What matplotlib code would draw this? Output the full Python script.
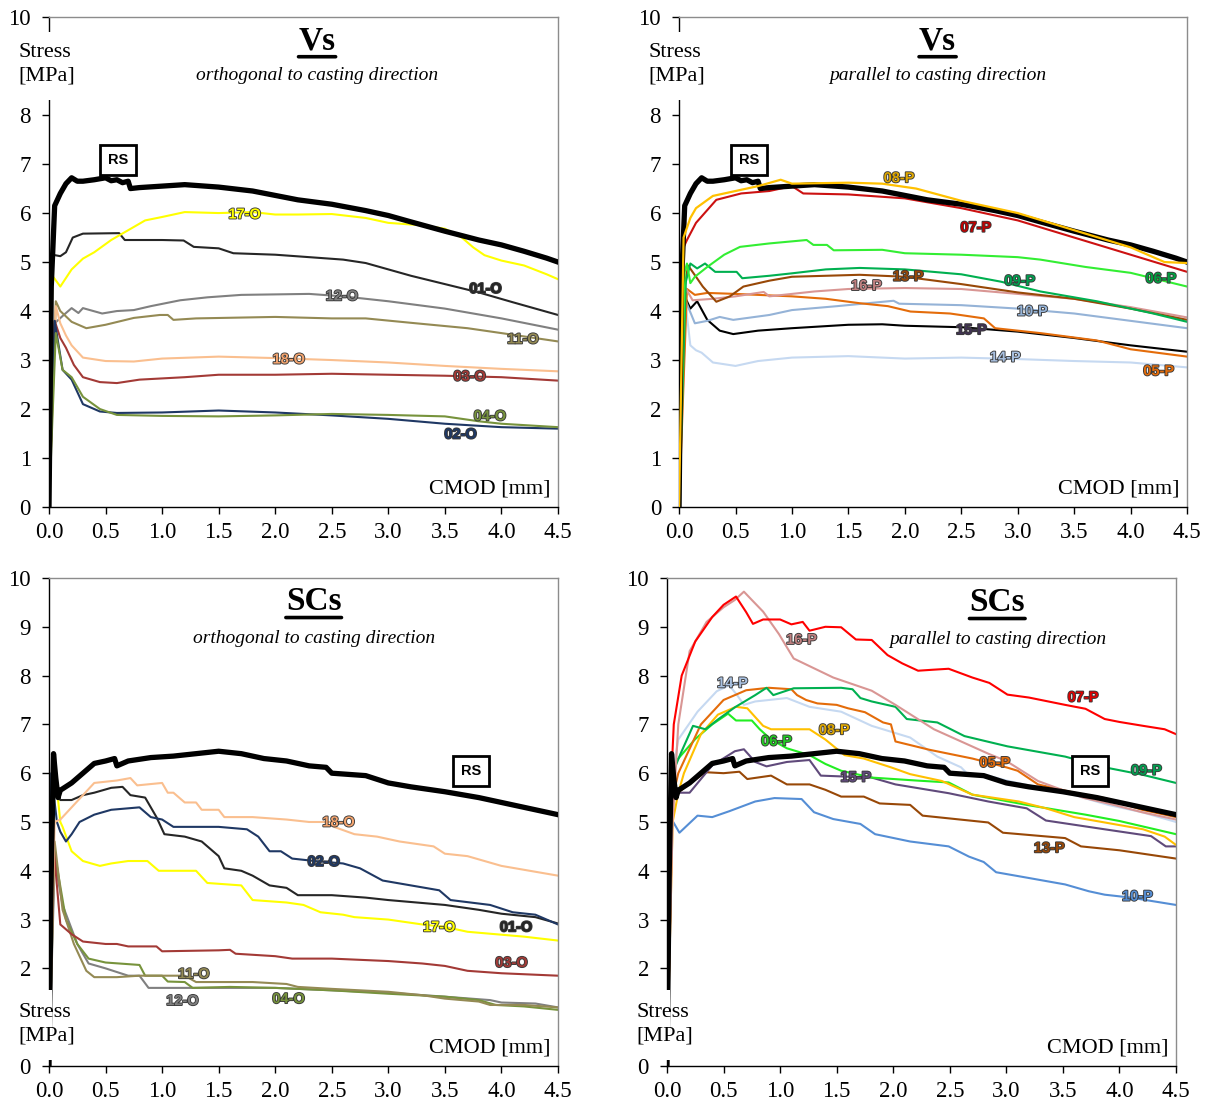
import matplotlib
matplotlib.use('Agg')
from matplotlib import pyplot as plt
from matplotlib.patches import Rectangle
import matplotlib.patheffects as pe
import matplotlib.transforms as mtransforms

plt.rcParams['font.family'] = 'Liberation Serif'

# ---------------- data: Vs, orthogonal ----------------
vs_rs = ([0, 0.02, 0.05, 0.1, 0.15, 0.2, 0.25, 0.3, 0.4, 0.5, 0.55, 0.6, 0.65, 0.7, 0.72, 0.8, 1.0, 1.2, 1.5, 1.8, 2.0, 2.2, 2.5, 2.8, 3.0, 3.2, 3.5, 3.8, 4.0, 4.2, 4.4, 4.5],
         [0, 4.5, 6.15, 6.4, 6.6, 6.72, 6.65, 6.65, 6.68, 6.72, 6.66, 6.68, 6.62, 6.65, 6.5, 6.52, 6.55, 6.58, 6.53, 6.45, 6.36, 6.27, 6.18, 6.05, 5.95, 5.82, 5.63, 5.45, 5.35, 5.22, 5.08, 5.0])
vs_o_01 = ([0, 0.03, 0.1, 0.15, 0.21, 0.3, 0.62, 0.67, 1.0, 1.19, 1.28, 1.5, 1.63, 2.0, 2.3, 2.6, 2.8, 3.0, 3.2, 3.5, 3.8, 4.1, 4.5],
           [0, 5.15, 5.12, 5.2, 5.5, 5.58, 5.59, 5.45, 5.45, 5.44, 5.31, 5.28, 5.18, 5.15, 5.1, 5.05, 4.98, 4.85, 4.72, 4.55, 4.38, 4.18, 3.92])
vs_o_02 = ([0, 0.05, 0.12, 0.2, 0.3, 0.45, 0.6, 1.0, 1.5, 2.0, 2.5, 3.0, 3.5, 4.0, 4.5],
           [0, 3.8, 2.8, 2.6, 2.1, 1.95, 1.92, 1.93, 1.97, 1.93, 1.87, 1.8, 1.7, 1.63, 1.6])
vs_o_03 = ([0, 0.05, 0.1, 0.15, 0.22, 0.3, 0.45, 0.6, 0.8, 1.2, 1.5, 2.0, 2.5, 3.0, 3.5, 4.0, 4.5],
           [0, 3.8, 3.45, 3.25, 2.9, 2.65, 2.55, 2.53, 2.6, 2.65, 2.7, 2.7, 2.72, 2.7, 2.68, 2.65, 2.58])
vs_o_04 = ([0, 0.06, 0.12, 0.2, 0.3, 0.45, 0.6, 1.0, 1.5, 2.0, 2.5, 3.0, 3.5, 3.8, 4.0, 4.5],
           [0, 3.55, 2.8, 2.65, 2.25, 2.0, 1.88, 1.86, 1.85, 1.87, 1.9, 1.88, 1.85, 1.75, 1.7, 1.63])
vs_o_11 = ([0, 0.06, 0.1, 0.2, 0.33, 0.5, 0.75, 0.98, 1.05, 1.1, 1.3, 2.0, 2.5, 2.8, 3.2, 3.7, 4.0, 4.5],
           [0, 4.2, 4.0, 3.78, 3.65, 3.72, 3.86, 3.92, 3.92, 3.82, 3.85, 3.88, 3.85, 3.85, 3.76, 3.65, 3.55, 3.38])
vs_o_12 = ([0, 0.05, 0.13, 0.2, 0.26, 0.3, 0.47, 0.6, 0.75, 0.9, 1.16, 1.4, 1.7, 2.0, 2.3, 2.6, 3.0, 3.5, 4.0, 4.5],
           [0, 3.75, 3.92, 4.06, 3.96, 4.06, 3.95, 4.0, 4.02, 4.1, 4.22, 4.28, 4.33, 4.34, 4.35, 4.3, 4.2, 4.05, 3.85, 3.62])
vs_o_17 = ([0, 0.03, 0.1, 0.2, 0.3, 0.4, 0.55, 0.7, 0.85, 1.0, 1.2, 1.5, 1.8, 2.0, 2.2, 2.5, 2.8, 3.0, 3.3, 3.5, 3.65, 3.75, 3.85, 4.0, 4.2, 4.4, 4.5],
           [0, 4.72, 4.5, 4.85, 5.07, 5.2, 5.45, 5.65, 5.85, 5.92, 6.02, 6.0, 6.02, 5.97, 5.97, 5.98, 5.9, 5.8, 5.75, 5.68, 5.5, 5.3, 5.14, 5.03, 4.93, 4.75, 4.65])
vs_o_18 = ([0, 0.06, 0.1, 0.15, 0.2, 0.3, 0.5, 0.75, 1.0, 1.5, 2.0, 2.5, 3.0, 3.5, 4.0, 4.5],
           [0, 4.1, 3.75, 3.5, 3.3, 3.05, 2.98, 2.97, 3.03, 3.07, 3.04, 3.0, 2.95, 2.88, 2.82, 2.77])

# ---------------- data: Vs, parallel ----------------
vs_p_05 = ([0, 0.07, 0.14, 0.25, 0.5, 1.0, 1.3, 1.6, 1.85, 2.05, 2.4, 2.7, 2.8, 3.2, 3.7, 4.0, 4.5],
           [0, 4.45, 4.33, 4.37, 4.35, 4.3, 4.25, 4.16, 4.1, 3.99, 3.95, 3.85, 3.65, 3.55, 3.4, 3.22, 3.07])
vs_p_06 = ([0, 0.05, 0.07, 0.1, 0.14, 0.25, 0.4, 0.54, 0.8, 1.13, 1.19, 1.31, 1.37, 1.8, 2.0, 2.5, 3.0, 3.2, 3.6, 4.0, 4.5],
           [0, 4.8, 4.97, 4.57, 4.7, 4.9, 5.15, 5.31, 5.38, 5.45, 5.35, 5.35, 5.24, 5.25, 5.18, 5.15, 5.1, 5.05, 4.9, 4.78, 4.5])
vs_p_07 = ([0, 0.04, 0.07, 0.15, 0.33, 0.55, 0.8, 1.0, 1.1, 1.5, 2.0, 2.5, 3.0, 3.5, 4.0, 4.5],
           [0, 5.3, 5.45, 5.8, 6.27, 6.4, 6.45, 6.55, 6.4, 6.38, 6.3, 6.1, 5.85, 5.5, 5.15, 4.8])
vs_p_08 = ([0, 0.04, 0.1, 0.15, 0.3, 0.5, 0.7, 0.9, 1.0, 1.5, 1.8, 2.1, 2.5, 3.0, 3.5, 4.0, 4.3, 4.5],
           [0, 5.5, 5.9, 6.1, 6.35, 6.45, 6.55, 6.68, 6.6, 6.62, 6.6, 6.5, 6.25, 6.0, 5.65, 5.3, 5.0, 4.98])
vs_p_09 = ([0, 0.06, 0.1, 0.16, 0.23, 0.32, 0.51, 0.56, 0.8, 1.0, 1.3, 1.6, 2.0, 2.5, 2.85, 3.2, 3.7, 4.2, 4.5],
           [0, 4.6, 4.97, 4.87, 4.97, 4.8, 4.8, 4.67, 4.72, 4.77, 4.85, 4.88, 4.85, 4.75, 4.6, 4.4, 4.2, 3.95, 3.78])
vs_p_10 = ([0, 0.06, 0.14, 0.25, 0.36, 0.48, 0.8, 1.0, 1.4, 1.9, 1.95, 2.5, 3.0, 3.5, 4.0, 4.5],
           [0, 4.2, 3.75, 3.8, 3.88, 3.82, 3.92, 4.02, 4.1, 4.21, 4.15, 4.12, 4.05, 3.95, 3.8, 3.65])
vs_p_13 = ([0, 0.05, 0.08, 0.15, 0.21, 0.33, 0.45, 0.57, 0.8, 1.0, 1.3, 1.6, 2.0, 2.5, 3.0, 3.5, 4.0, 4.5],
           [0, 4.5, 4.93, 4.7, 4.5, 4.19, 4.3, 4.5, 4.62, 4.7, 4.72, 4.74, 4.7, 4.55, 4.38, 4.25, 4.05, 3.82])
vs_p_14 = ([0, 0.05, 0.1, 0.15, 0.2, 0.3, 0.5, 0.7, 1.0, 1.5, 2.0, 2.5, 3.0, 3.5, 4.0, 4.5],
           [0, 4.3, 3.3, 3.2, 3.15, 2.95, 2.88, 2.98, 3.05, 3.08, 3.03, 3.05, 3.02, 2.98, 2.95, 2.85])
vs_p_15 = ([0, 0.05, 0.1, 0.16, 0.25, 0.36, 0.48, 0.7, 1.0, 1.5, 1.8, 2.0, 2.5, 3.0, 3.5, 4.0, 4.5],
           [0, 4.3, 4.05, 4.2, 3.82, 3.6, 3.53, 3.6, 3.65, 3.72, 3.73, 3.7, 3.67, 3.58, 3.45, 3.3, 3.17])
vs_p_16 = ([0, 0.05, 0.12, 0.3, 0.5, 0.75, 0.8, 1.0, 1.2, 1.5, 2.0, 2.5, 3.0, 3.5, 4.0, 4.5],
           [0, 4.5, 4.22, 4.25, 4.3, 4.39, 4.3, 4.35, 4.4, 4.45, 4.47, 4.45, 4.35, 4.25, 4.08, 3.87])

# ---------------- data: SCs, orthogonal ----------------
sc_rs = ([0, 0.02, 0.04, 0.06, 0.08, 0.1, 0.2, 0.3, 0.4, 0.5, 0.58, 0.6, 0.7, 0.9, 1.1, 1.3, 1.5, 1.7, 1.9, 2.1, 2.3, 2.45, 2.5, 2.8, 3.0, 3.2, 3.5, 3.8, 4.0, 4.2, 4.5],
         [0, 4.0, 6.4, 5.9, 5.5, 5.65, 5.8, 6.0, 6.2, 6.25, 6.3, 6.15, 6.25, 6.32, 6.35, 6.4, 6.45, 6.4, 6.3, 6.25, 6.15, 6.12, 6.0, 5.95, 5.8, 5.72, 5.62, 5.5, 5.4, 5.3, 5.15])
sc_o_01 = ([0, 0.03, 0.1, 0.2, 0.3, 0.4, 0.55, 0.65, 0.72, 0.85, 0.95, 1.02, 1.2, 1.35, 1.5, 1.55, 1.7, 1.8, 1.95, 2.1, 2.2, 2.5, 2.8, 3.0, 3.5, 3.8, 4.0, 4.3, 4.5],
           [0, 6.0, 5.45, 5.45, 5.55, 5.6, 5.7, 5.72, 5.55, 5.5, 5.1, 4.75, 4.7, 4.6, 4.3, 4.05, 4.0, 3.9, 3.7, 3.65, 3.5, 3.5, 3.45, 3.4, 3.3, 3.2, 3.12, 3.05, 2.92])
sc_o_02 = ([0, 0.02, 0.07, 0.1, 0.15, 0.2, 0.27, 0.4, 0.55, 0.8, 0.9, 1.0, 1.1, 1.5, 1.75, 1.85, 1.95, 2.05, 2.15, 2.35, 2.6, 2.75, 2.95, 3.2, 3.45, 3.55, 3.9, 4.1, 4.3, 4.5],
           [0, 6.0, 5.0, 4.8, 4.6, 4.75, 5.0, 5.15, 5.25, 5.3, 5.1, 5.05, 4.9, 4.9, 4.85, 4.7, 4.4, 4.4, 4.25, 4.2, 4.15, 4.05, 3.8, 3.7, 3.6, 3.4, 3.3, 3.15, 3.1, 2.9])
sc_o_03 = ([0, 0.04, 0.1, 0.2, 0.3, 0.5, 0.6, 0.7, 0.95, 1.0, 1.5, 1.6, 1.65, 2.0, 2.15, 2.5, 3.0, 3.3, 3.5, 3.7, 4.0, 4.5],
           [0, 4.5, 2.9, 2.7, 2.55, 2.5, 2.5, 2.45, 2.45, 2.35, 2.37, 2.38, 2.3, 2.25, 2.2, 2.2, 2.15, 2.1, 2.05, 1.95, 1.9, 1.85])
sc_o_04 = ([0, 0.04, 0.15, 0.25, 0.35, 0.5, 0.8, 0.85, 1.0, 1.05, 1.2, 1.27, 1.6, 2.0, 2.5, 3.0, 3.5, 3.8, 3.95, 4.2, 4.5],
           [0, 4.5, 3.0, 2.5, 2.2, 2.12, 2.07, 1.85, 1.85, 1.73, 1.72, 1.6, 1.62, 1.6, 1.55, 1.48, 1.42, 1.35, 1.25, 1.22, 1.15])
sc_o_11 = ([0, 0.05, 0.12, 0.22, 0.33, 0.4, 0.6, 0.8, 1.2, 1.3, 1.8, 2.1, 2.2, 2.5, 3.0, 3.3, 3.5, 3.8, 3.9, 4.2, 4.5],
           [0, 4.6, 3.2, 2.5, 1.95, 1.82, 1.82, 1.85, 1.85, 1.72, 1.72, 1.68, 1.62, 1.58, 1.52, 1.45, 1.38, 1.32, 1.25, 1.25, 1.2])
sc_o_12 = ([0, 0.05, 0.12, 0.25, 0.35, 0.5, 0.7, 0.8, 0.88, 1.2, 2.0, 2.5, 3.0, 3.5, 3.9, 4.0, 4.3, 4.5],
           [0, 4.2, 3.3, 2.5, 2.1, 2.0, 1.85, 1.85, 1.6, 1.6, 1.6, 1.55, 1.5, 1.42, 1.35, 1.3, 1.28, 1.2])
sc_o_17 = ([0, 0.05, 0.1, 0.12, 0.2, 0.3, 0.45, 0.55, 0.7, 0.87, 0.97, 1.3, 1.4, 1.7, 1.8, 2.1, 2.25, 2.4, 2.6, 2.7, 3.0, 3.3, 3.5, 3.7, 4.2, 4.5],
           [0, 6.15, 5.0, 4.9, 4.4, 4.2, 4.1, 4.15, 4.2, 4.2, 4.0, 4.0, 3.75, 3.7, 3.4, 3.35, 3.3, 3.15, 3.1, 3.05, 3.0, 2.9, 2.85, 2.75, 2.65, 2.57])
sc_o_18 = ([0, 0.05, 0.1, 0.2, 0.3, 0.4, 0.6, 0.72, 0.78, 1.0, 1.05, 1.1, 1.2, 1.3, 1.35, 1.5, 1.55, 1.8, 2.1, 2.3, 2.5, 2.52, 2.7, 2.9, 3.1, 3.4, 3.5, 3.7, 4.0, 4.3, 4.5],
           [0, 5.0, 5.05, 5.3, 5.55, 5.8, 5.85, 5.9, 5.75, 5.8, 5.6, 5.6, 5.4, 5.4, 5.25, 5.25, 5.1, 5.1, 5.05, 5.0, 5.0, 4.9, 4.75, 4.7, 4.6, 4.5, 4.35, 4.3, 4.1, 3.98, 3.9])

# ---------------- data: SCs, parallel ----------------
sc_p_05 = ([0, 0.05, 0.1, 0.3, 0.5, 0.7, 0.9, 1.1, 1.15, 1.23, 1.33, 1.5, 1.6, 1.75, 1.91, 1.98, 2.02, 2.32, 2.7, 3.0, 3.1, 3.28, 3.6, 3.87, 4.2, 4.5],
           [0, 5.5, 6.0, 7.0, 7.5, 7.7, 7.75, 7.72, 7.6, 7.5, 7.43, 7.4, 7.33, 7.25, 7.04, 7.0, 6.65, 6.48, 6.3, 6.12, 6.05, 5.77, 5.6, 5.49, 5.25, 5.1])
sc_p_06 = ([0, 0.05, 0.1, 0.25, 0.4, 0.54, 0.61, 0.75, 0.82, 0.92, 1.06, 1.26, 1.4, 1.54, 1.81, 2.2, 2.49, 2.7, 3.18, 3.7, 4.0, 4.5],
           [0, 6.2, 6.3, 6.7, 7.0, 7.22, 7.08, 7.08, 6.9, 6.69, 6.51, 6.37, 6.19, 6.05, 5.91, 5.85, 5.81, 5.56, 5.35, 5.15, 5.02, 4.75])
sc_p_07 = ([0, 0.03, 0.06, 0.13, 0.25, 0.4, 0.5, 0.61, 0.7, 0.76, 0.85, 1.0, 1.1, 1.2, 1.26, 1.4, 1.54, 1.67, 1.81, 1.95, 2.08, 2.22, 2.35, 2.49, 2.7, 2.85, 3.01, 3.2, 3.52, 3.7, 3.87, 4.0, 4.21, 4.4, 4.5],
           [0, 5.5, 7.0, 8.0, 8.7, 9.2, 9.45, 9.62, 9.3, 9.06, 9.15, 9.15, 9.05, 9.1, 8.92, 9.0, 8.99, 8.74, 8.73, 8.42, 8.25, 8.1, 8.12, 8.14, 7.96, 7.85, 7.61, 7.55, 7.4, 7.32, 7.11, 7.05, 6.97, 6.9, 6.8])
sc_p_08 = ([0, 0.05, 0.1, 0.15, 0.3, 0.45, 0.61, 0.71, 0.85, 0.92, 1.26, 1.4, 1.57, 1.74, 1.98, 2.15, 2.43, 2.7, 3.11, 3.35, 3.6, 3.87, 4.21, 4.4, 4.5],
           [0, 5.0, 5.6, 6.0, 6.8, 7.2, 7.36, 7.33, 6.97, 6.9, 6.9, 6.69, 6.37, 6.3, 6.12, 5.98, 5.84, 5.56, 5.42, 5.28, 5.1, 4.99, 4.85, 4.7, 4.53])
sc_p_09 = ([0, 0.05, 0.12, 0.23, 0.34, 0.45, 0.6, 0.78, 0.88, 0.94, 1.12, 1.54, 1.64, 1.71, 1.81, 2.02, 2.12, 2.39, 2.63, 3.01, 3.52, 3.87, 4.2, 4.5],
           [0, 6.0, 6.4, 6.97, 6.9, 7.1, 7.35, 7.6, 7.75, 7.6, 7.74, 7.75, 7.72, 7.54, 7.47, 7.36, 7.11, 7.04, 6.76, 6.55, 6.34, 6.12, 5.97, 5.8])
sc_p_10 = ([0, 0.03, 0.11, 0.27, 0.4, 0.55, 0.78, 0.95, 1.19, 1.3, 1.47, 1.71, 1.84, 2.15, 2.49, 2.67, 2.8, 2.91, 3.18, 3.52, 3.73, 3.87, 4.1, 4.5],
           [0, 5.1, 4.78, 5.13, 5.1, 5.22, 5.42, 5.49, 5.47, 5.2, 5.06, 4.96, 4.75, 4.6, 4.5, 4.29, 4.18, 3.97, 3.86, 3.72, 3.58, 3.51, 3.45, 3.3])
sc_p_13 = ([0, 0.05, 0.15, 0.34, 0.5, 0.64, 0.71, 0.92, 1.06, 1.26, 1.4, 1.54, 1.74, 1.88, 2.15, 2.26, 2.84, 2.97, 3.52, 3.66, 4.0, 4.5],
           [0, 5.5, 5.7, 6.02, 6.0, 6.03, 5.88, 5.95, 5.77, 5.77, 5.66, 5.52, 5.52, 5.38, 5.35, 5.13, 4.99, 4.78, 4.67, 4.5, 4.42, 4.25])
sc_p_14 = ([0, 0.05, 0.1, 0.27, 0.44, 0.55, 0.62, 0.68, 0.78, 1.06, 1.26, 1.54, 1.81, 2.15, 2.39, 2.6, 2.65, 2.84, 3.0, 3.3, 3.6, 3.9, 4.2, 4.5],
           [0, 6.0, 6.69, 7.26, 7.68, 7.8, 7.6, 7.4, 7.47, 7.54, 7.36, 7.26, 6.97, 6.73, 6.34, 6.12, 6.0, 5.95, 5.85, 5.7, 5.55, 5.35, 5.2, 5.0])
sc_p_15 = ([0, 0.05, 0.1, 0.2, 0.4, 0.6, 0.68, 0.78, 0.88, 1.06, 1.26, 1.36, 1.81, 2.02, 2.49, 2.84, 3.18, 3.35, 3.87, 4.28, 4.41, 4.5],
           [0, 5.5, 5.6, 5.6, 6.16, 6.45, 6.49, 6.23, 6.14, 6.23, 6.27, 5.95, 5.91, 5.77, 5.59, 5.42, 5.28, 5.03, 4.85, 4.71, 4.5, 4.5])
sc_p_16 = ([0, 0.05, 0.1, 0.2, 0.35, 0.5, 0.6, 0.68, 0.75, 0.85, 0.99, 1.12, 1.47, 1.81, 2.02, 2.36, 2.84, 3.0, 3.28, 3.69, 3.9, 4.2, 4.5],
           [0, 5.0, 7.0, 8.5, 9.1, 9.4, 9.55, 9.72, 9.55, 9.31, 8.85, 8.35, 7.96, 7.69, 7.4, 6.9, 6.4, 6.25, 5.84, 5.49, 5.38, 5.2, 5.05])

# colours
c_rs = 'black'
c_o = {'01': '#262626', '02': '#1F3864', '03': '#A33A36', '04': '#77933C',
       '11': '#948A54', '12': '#808080', '17': '#FFFF00', '18': '#FABF8F'}

panels = [
    dict(rect=[0.0406, 0.5399, 0.4217, 0.4446], title='Vs', sub='orthogonal to casting direction',
         title_xy=(2.37, 9.52), sub_xy=(2.37, 8.8), rs_xy=(0.61, 7.08), top=True,
         series=[(vs_o_12, c_o['12']), (vs_o_11, c_o['11']), (vs_o_18, c_o['18']), (vs_o_03, c_o['03']),
                 (vs_o_02, c_o['02']), (vs_o_04, c_o['04']), (vs_o_01, c_o['01']), (vs_o_17, c_o['17'])],
         labels=[('17-O', 1.73, 5.97, '#FFFF00'), ('01-O', 3.86, 4.45, '#262626'), ('12-O', 2.59, 4.3, '#808080'),
                 ('11-O', 4.19, 3.42, '#948A54'), ('18-O', 2.12, 3.01, '#F4A46E'), ('03-O', 3.72, 2.66, '#A33A36'),
                 ('04-O', 3.9, 1.85, '#77933C'), ('02-O', 3.64, 1.48, '#1F3864')],
         rs=vs_rs),
    dict(rect=[0.5626, 0.5399, 0.4209, 0.4446], title='Vs', sub='parallel to casting direction',
         title_xy=(2.29, 9.52), sub_xy=(2.29, 8.8), rs_xy=(0.62, 7.08), top=True,
         series=[(vs_p_14, '#C6D9F1'), (vs_p_15, '#000000'), (vs_p_10, '#95B3D7'), (vs_p_05, '#E46C0A'),
                 (vs_p_16, '#D99694'), (vs_p_13, '#984807'), (vs_p_09, '#00B050'), (vs_p_06, '#33EE33'),
                 (vs_p_07, '#CC1111')],
         labels=[('08-P', 1.95, 6.71, '#E0A800'), ('07-P', 2.63, 5.7, '#C00000'), ('06-P', 4.27, 4.66, '#00A040'),
                 ('09-P', 3.02, 4.61, '#00A050'), ('13-P', 2.03, 4.7, '#984807'), ('16-P', 1.66, 4.51, '#C08080'),
                 ('10-P', 3.13, 3.99, '#95B3D7'), ('15-P', 2.59, 3.61, '#403152'), ('14-P', 2.89, 3.05, '#A8C0E0'),
                 ('05-P', 4.25, 2.77, '#E46C0A')],
         rs=vs_rs, after=[(vs_p_08, '#FFC000')]),
    dict(rect=[0.0406, 0.0327, 0.4217, 0.4428], title='SCs', sub='orthogonal to casting direction',
         title_xy=(2.34, 9.52), sub_xy=(2.34, 8.76), rs_xy=(3.73, 6.05), top=False,
         series=[(sc_o_12, c_o['12']), (sc_o_04, c_o['04']), (sc_o_11, c_o['11']), (sc_o_03, c_o['03']),
                 (sc_o_17, c_o['17']), (sc_o_01, c_o['01']), (sc_o_02, c_o['02']), (sc_o_18, c_o['18'])],
         labels=[('18-O', 2.56, 4.99, '#F4A46E'), ('02-O', 2.43, 4.18, '#1F3864'), ('17-O', 3.45, 2.84, '#FFFF00'),
                 ('01-O', 4.13, 2.84, '#262626'), ('03-O', 4.09, 2.11, '#A33A36'), ('11-O', 1.28, 1.88, '#948A54'),
                 ('12-O', 1.18, 1.33, '#808080'), ('04-O', 2.12, 1.37, '#77933C')],
         rs=sc_rs),
    dict(rect=[0.5526, 0.0327, 0.4217, 0.4428], title='SCs', sub='parallel to casting direction',
         title_xy=(2.92, 9.5), sub_xy=(2.92, 8.74), rs_xy=(3.74, 6.05), top=False,
         series=[(sc_p_10, '#558ED5'), (sc_p_13, '#984807'), (sc_p_15, '#604A7B'), (sc_p_06, '#22EE22'),
                 (sc_p_08, '#FFC000'), (sc_p_14, '#C6D9F1'), (sc_p_05, '#E46C0A'), (sc_p_09, '#00B050'),
                 (sc_p_16, '#D99694'), (sc_p_07, '#FF0000')],
         labels=[('16-P', 1.19, 8.73, '#C08080'), ('14-P', 0.58, 7.84, '#A8C0E0'), ('08-P', 1.48, 6.88, '#E0A800'),
                 ('06-P', 0.97, 6.65, '#22CC22'), ('07-P', 3.68, 7.55, '#E00000'), ('05-P', 2.9, 6.21, '#E46C0A'),
                 ('15-P', 1.67, 5.91, '#604A7B'), ('09-P', 4.24, 6.05, '#00A050'), ('13-P', 3.38, 4.46, '#984807'),
                 ('10-P', 4.16, 3.47, '#558ED5')],
         rs=sc_rs),
]

fig = plt.figure(figsize=(12.07, 11.02), dpi=100)
lab_font = dict(family='Liberation Sans', weight='bold', size=10.5)
outline = [pe.withStroke(linewidth=1.3, foreground='#3a3a3a')]

for p in panels:
    ax = fig.add_axes(p['rect'])
    for (xs, ys), col in p['series']:
        ax.plot(xs, ys, color=col, lw=1.5, zorder=2)
    ax.plot(p['rs'][0], p['rs'][1], color=c_rs, lw=3.8, zorder=3)
    for (xs, ys), col in p.get('after', []):
        ax.plot(xs, ys, color=col, lw=1.6, zorder=3.5)

    ax.set_xlim(0, 4.5)
    ax.set_ylim(0, 10)
    ax.set_xticks([0, 0.5, 1.0, 1.5, 2.0, 2.5, 3.0, 3.5, 4.0, 4.5])
    ax.set_xticklabels(['%.1f' % v for v in ax.get_xticks()])
    if p['top']:
        ax.set_yticks([0, 1, 2, 3, 4, 5, 6, 7, 8, 10])
    else:
        ax.set_yticks([0, 2, 3, 4, 5, 6, 7, 8, 9, 10])
    ax.tick_params(direction='out', length=5, width=1, labelsize=16.5)
    ax.tick_params(axis='x', pad=6)
    ax.tick_params(axis='y', pad=8)
    for s in ['top', 'right']:
        ax.spines[s].set_color('#8c8c8c')
        ax.spines[s].set_linewidth(1.0)
    for s in ['left', 'bottom']:
        ax.spines[s].set_color('black')
        ax.spines[s].set_linewidth(1.0)

    # white patch that breaks the y axis behind the axis caption
    trans = mtransforms.blended_transform_factory(ax.transAxes, ax.transData)
    if p['top']:
        gap = (8.3, 9.7)
        stress_y = 9.47
    else:
        gap = (0.12, 1.56)
        stress_y = 1.3
    ax.add_patch(Rectangle((-0.015, gap[0]), 0.021, gap[1] - gap[0], transform=trans,
                           facecolor='white', edgecolor='none', zorder=10, clip_on=False))
    ax.text(-0.06, stress_y, 'Stress\n[MPa]', transform=trans, ha='left', va='top',
            fontsize=16, linespacing=1.35, zorder=11)
    ax.text(0.985, 0.018, 'CMOD [mm]', transform=ax.transAxes, ha='right', va='bottom',
            fontsize=16, zorder=11)

    t = ax.text(p['title_xy'][0], p['title_xy'][1], p['title'], ha='center', va='center',
                fontsize=24, fontweight='bold', zorder=11)
    ax.annotate('', xy=(0, -0.02), xycoords=t, xytext=(1, -0.02), textcoords=t,
                arrowprops=dict(arrowstyle='-', lw=2.6, color='black', shrinkA=0, shrinkB=0))
    ax.text(p['sub_xy'][0], p['sub_xy'][1], p['sub'], ha='center', va='center',
            fontsize=14, style='italic', zorder=11)

    for txt, lx, ly, col in p['labels']:
        ax.text(lx, ly, txt, ha='center', va='center', color=col, zorder=12,
                path_effects=outline, **lab_font)
    ax.text(p['rs_xy'][0], p['rs_xy'][1], 'RS', ha='center', va='center', zorder=12,
            bbox=dict(boxstyle='square,pad=0.55', facecolor='white', edgecolor='black', linewidth=2),
            **lab_font)

plt.savefig('out.png', dpi=100)
